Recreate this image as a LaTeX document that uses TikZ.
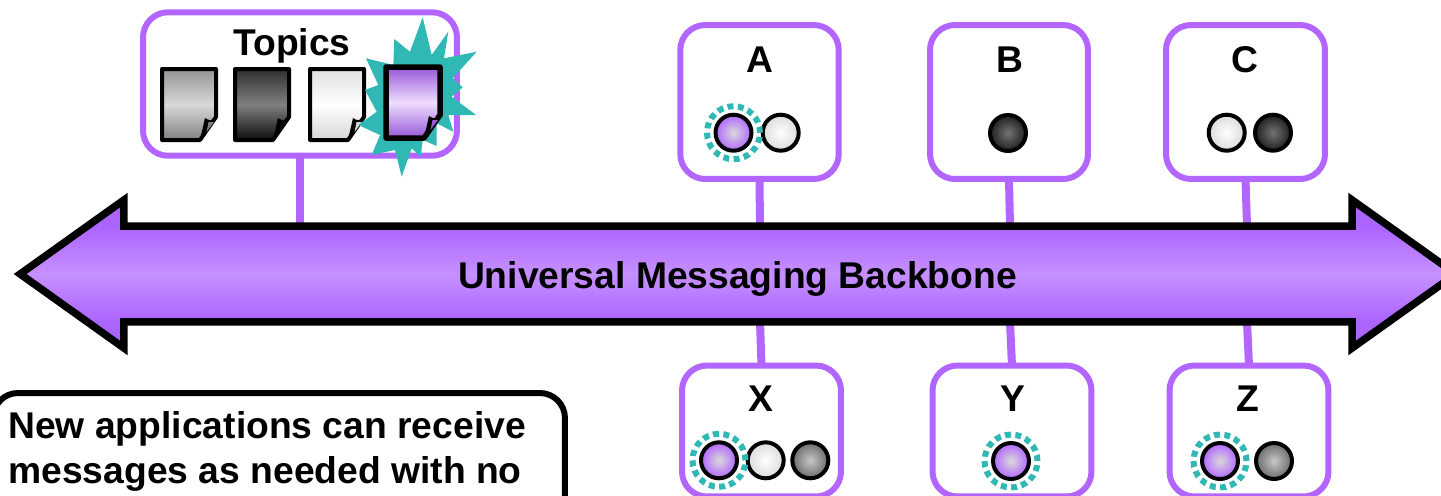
\documentclass[tikz,border=0pt]{standalone}
\usepackage{fontspec}
\setmainfont{Liberation Sans}
\usepackage{xcolor}
\usetikzlibrary{shapes.arrows}
\definecolor{busframe}{RGB}{178, 102, 255}
\definecolor{busedge}{RGB}{172, 100, 255}
\definecolor{buscentre}{RGB}{198, 144, 255}
\definecolor{burstteal}{RGB}{47, 184, 180}
\pgfdeclareverticalshading{backboneshade}{100bp}{color(0bp)=(busedge); color(34bp)=(busedge); color(50bp)=(buscentre); color(66bp)=(busedge); color(100bp)=(busedge)}
\tikzset{
  appbox/.style={draw=busframe, line width=0.12cm, rounded corners=0.5cm, outer sep=0pt, fill=white},
  link/.style={draw=busframe, line width=0.16cm},
  boxlabel/.style={anchor=base, font=\fontsize{21.2}{25}\selectfont\bfseries, inner sep=0pt},
  ball/.style={circle, draw=black, line width=0.08cm, minimum size=0.72cm, inner sep=0pt, outer sep=0pt},
  ballpurple/.style={ball, inner color=black!15, outer color=busframe},
  ballwhite/.style={ball, inner color=white, outer color=black!14},
  ballgrey/.style={ball, inner color=black!22, outer color=black!58},
  balldark/.style={ball, inner color=black!55, outer color=black!88},
  ringmark/.style={circle, draw=burstteal, line width=0.12cm, dash pattern=on 0.12cm off 0.088cm, minimum size=1.06cm, inner sep=0pt, outer sep=0pt}
}
% one topic page: x, y, top colour, middle colour, bottom colour, line width
\newcommand{\topicpage}[6]{
  \begin{scope}[shift={(#1,#2)}]
    \draw[line width=#6, line join=round, top color=#3, bottom color=#5, middle color=#4]
      (0,0) -- (54,0) -- (54,48) -- (38,71) -- (0,71) -- cycle;
    \fill[black] (38,71) -- (43,49) .. controls (47,52) and (50,52) .. (54,48) -- cycle;
    \fill[#5] (44.5,63) -- (52,53) -- (46.5,53) -- cycle;
  \end{scope}
}

\begin{document}
\begin{tikzpicture}[x=0.02cm, y=-0.02cm]
\useasboundingbox (0,0) rectangle (1441,495);

% Topics box
\node[appbox, minimum width=6.28cm, minimum height=2.87cm] (topics) at (300,84) {};
\node[boxlabel] (topicslabel) at (292,55) {Topics};
\topicpage{162}{69}{black!42}{black!15}{black!50}{0.08cm}
\topicpage{235}{69}{black!82}{black!50}{black!95}{0.08cm}
\topicpage{310}{69}{black!12}{white}{black!16}{0.08cm}
\fill[burstteal] (422.7,17.3) -- (431.7,55) -- (448.3,31.7) -- (444,58.3) -- (476.7,51.7)
  -- (452.7,78.3) -- (462.7,87.3) -- (451.7,96.7) -- (476,115) -- (448.3,115)
  -- (453.3,131.7) -- (436.7,123.3) -- (436.7,146) -- (422.7,140) -- (420.7,156.7)
  -- (411.7,148.3) -- (401.7,176.7) -- (395,150) -- (371.7,155) -- (380,135)
  -- (358.3,125) -- (376.7,111.7) -- (365,90) -- (378.3,85) -- (366,58.3)
  -- (393.3,65) -- (394.3,39) -- (410,51.7) -- cycle;
\topicpage{386}{67}{busframe!85!black}{busframe!22}{busframe!85!black}{0.11cm}

% Upper applications
\node[appbox, minimum width=3.17cm, minimum height=3.08cm] (boxa) at (759.5,102) {};
\node[appbox, minimum width=3.16cm, minimum height=3.08cm] (boxb) at (1009,102) {};
\node[appbox, minimum width=3.18cm, minimum height=3.08cm] (boxc) at (1245.5,102) {};
\node[boxlabel] (labela) at (760,72) {A};
\node[boxlabel] (labelb) at (1010,72) {B};
\node[boxlabel] (labelc) at (1245,72) {C};
\node[ballpurple] (a1) at (733.5,132.7) {};
\node[ballwhite] (a2) at (780.7,132.7) {};
\node[ringmark] (ringa) at (733.5,132.7) {};
\node[balldark] (b1) at (1008,133) {};
\node[ballwhite] (c1) at (1226.7,132.7) {};
\node[balldark] (c2) at (1273,132.7) {};

% Lower applications
\node[appbox, minimum width=3.18cm, minimum height=2.62cm] (boxx) at (761.5,431) {};
\node[appbox, minimum width=3.18cm, minimum height=2.62cm] (boxy) at (1012,431) {};
\node[appbox, minimum width=3.18cm, minimum height=2.62cm] (boxz) at (1249,431) {};
\node[boxlabel] (labelx) at (761,411) {X};
\node[boxlabel] (labely) at (1013,411) {Y};
\node[boxlabel] (labelz) at (1248,411) {Z};
\node[ballpurple] (x1) at (719,460.3) {};
\node[ballwhite] (x2) at (765.7,460.3) {};
\node[ballgrey] (x3) at (810.3,460.3) {};
\node[ringmark] (ringx) at (719,460.3) {};
\node[ballpurple] (y1) at (1011,461) {};
\node[ringmark] (ringy) at (1011,461) {};
\node[ballpurple] (z1) at (1220,461) {};
\node[ballgrey] (z2) at (1274,461) {};
\node[ringmark] (ringz) at (1220,461) {};

% Where the links meet the bus
\coordinate (porttopics) at (300,226);
\coordinate (porta) at (760,226);
\coordinate (portb) at (1010,226);
\coordinate (portc) at (1247,226);
\coordinate (portx) at (760,322);
\coordinate (porty) at (1010,322);
\coordinate (portz) at (1247,322);

% Links
\draw[link] (topics.south -| porttopics) -- (porttopics);
\draw[link] (boxa.south) -- (porta);
\draw[link] (boxb.south) -- (portb);
\draw[link] (boxc.south) -- (portc);
\draw[link] (boxx.north) -- (portx);
\draw[link] (boxy.north) -- (porty);
\draw[link] (boxz.north) -- (portz);

% Bus arrow
\node[double arrow, double arrow tip angle=71, double arrow head extend=0.52cm, draw=black,
  line width=0.15cm, shade, shading=backboneshade, miter limit=10, inner xsep=0pt, inner ysep=0.88cm,
  outer sep=0pt, minimum height=28.72cm, minimum width=2.96cm] (backbone) at (738,274) {};
\node[boxlabel] (buslabel) at (737.5,288) {Universal Messaging Backbone};

% Note box
\node[draw=black, line width=0.12cm, rounded corners=0.5cm, outer sep=0pt,
  minimum width=11.44cm, minimum height=3cm] (note) at (279,468) {};
\node[boxlabel, anchor=base west] (noteline1) at (8,438) {New applications can receive};
\node[boxlabel, anchor=base west] (noteline2) at (8,483) {messages as needed with no};
\end{tikzpicture}
\end{document}
